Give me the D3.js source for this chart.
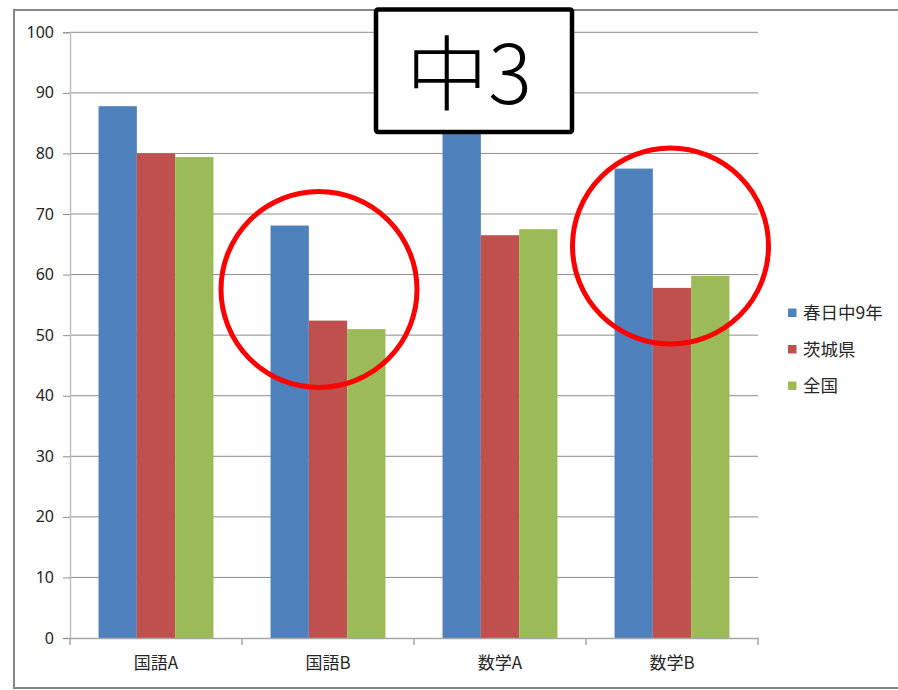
<!DOCTYPE html>
<html>
<head>
<meta charset="utf-8">
<script src="https://cdn.jsdelivr.net/npm/d3@7"></script>
<style>
  body { margin: 0; background: #fff; }
  svg { display: block; }
  .tick text { font-family: "Noto Sans", "Liberation Sans", sans-serif; }
</style>
</head>
<body>
<svg width="898" height="690"></svg>
<script>
// data
const categories = ['国語A', '国語B', '数学A', '数学B'];
const seriesNames = ['春日中9年', '茨城県', '全国'];
const kasuga = [87.8, 68.1, 86.0, 77.5];
const ibaraki = [80.0, 52.4, 66.5, 57.8];
const zenkoku = [79.4, 51.0, 67.5, 59.8];
const yTicks = [0, 10, 20, 30, 40, 50, 60, 70, 80, 90, 100];

const colors = ['#4F81BD', '#C0504D', '#9BBB59'];
const seriesValues = [kasuga, ibaraki, zenkoku];

const svg = d3.select('svg');

// outer frame
svg.append('rect')
    .attr('x', 14).attr('y', 10)
    .attr('width', 900).attr('height', 678)
    .attr('fill', 'none')
    .attr('stroke', '#868686')
    .attr('stroke-width', 2);

const plotLeft = 70, plotRight = 758, plotTop = 32.3, plotBottom = 638;

const x0 = d3.scaleBand().domain(categories).range([plotLeft, plotRight]).padding(0);
const x1 = d3.scaleBand().domain(seriesNames).range([0, x0.bandwidth()]).paddingInner(0).paddingOuter(0.745);
const y = d3.scaleLinear().domain([0, 100]).range([plotBottom, plotTop]);

// gridlines
svg.append('g')
    .selectAll('line')
    .data(yTicks.filter(d => d > 0))
    .enter()
    .append('line')
    .attr('x1', plotLeft).attr('x2', plotRight)
    .attr('y1', d => y(d)).attr('y2', d => y(d))
    .attr('stroke', '#8c8c8c')
    .attr('stroke-width', 1);

// bars
const groups = svg.append('g')
    .selectAll('g')
    .data(categories)
    .enter()
    .append('g')
    .attr('transform', d => `translate(${x0(d)},0)`);

groups.selectAll('rect')
    .data((c, i) => seriesNames.map((s, j) => ({ s: s, v: seriesValues[j][i], j: j })))
    .enter()
    .append('rect')
    .attr('x', d => x1(d.s))
    .attr('width', x1.bandwidth())
    .attr('y', d => y(d.v))
    .attr('height', d => y(0) - y(d.v))
    .attr('fill', d => colors[d.j]);

// y axis
const yAxis = svg.append('g')
    .attr('transform', `translate(${plotLeft},0)`)
    .call(d3.axisLeft(y).tickValues(yTicks).tickSize(7).tickPadding(9));
yAxis.select('.domain').attr('stroke', '#bfbfbf').attr('stroke-width', 1.5);
yAxis.selectAll('.tick line').attr('stroke', '#8c8c8c');
yAxis.selectAll('.tick text').attr('font-size', 16).attr('fill', '#262626');

// x axis
const xAxis = svg.append('g')
    .attr('transform', `translate(0,${plotBottom})`)
    .call(d3.axisBottom(x0).tickSize(0).tickPadding(19));
xAxis.select('.domain').attr('stroke', '#a6a6a6').attr('stroke-width', 1.5);
xAxis.selectAll('.tick text')
    .attr('font-size', 17)
    .attr('fill', '#262626')
    .style('font-family', '"Noto Sans CJK JP", sans-serif');
// category separators
xAxis.selectAll('.sep')
    .data(categories.concat(['end']))
    .enter()
    .append('line')
    .attr('x1', (d, i) => plotLeft + i * x0.step())
    .attr('x2', (d, i) => plotLeft + i * x0.step())
    .attr('y1', 0).attr('y2', 7)
    .attr('stroke', '#a6a6a6')
    .attr('stroke-width', 1.5);

// legend
const legend = svg.append('g')
    .selectAll('g')
    .data(seriesNames)
    .enter()
    .append('g')
    .attr('transform', (d, i) => `translate(788,${313 + i * 36.5})`);
legend.append('rect')
    .attr('x', 0).attr('y', -4.5)
    .attr('width', 8.5).attr('height', 8.5)
    .attr('fill', (d, i) => colors[i]);
legend.append('text')
    .attr('x', 15).attr('y', 0)
    .attr('dy', '0.36em')
    .attr('font-size', 17.5)
    .attr('fill', '#262626')
    .style('font-family', '"Noto Sans CJK JP", sans-serif')
    .text(d => d);

// red circles
const circles = [[319, 289.5, 98], [670.5, 246, 98]];
svg.append('g')
    .selectAll('circle')
    .data(circles)
    .enter()
    .append('circle')
    .attr('cx', d => d[0]).attr('cy', d => d[1]).attr('r', d => d[2])
    .attr('fill', 'none')
    .attr('stroke', '#ff0000')
    .attr('stroke-width', 5);

// title box
svg.append('rect')
    .attr('x', 376).attr('y', 9.5)
    .attr('width', 196).attr('height', 122.5)
    .attr('rx', 2)
    .attr('fill', '#fff')
    .attr('stroke', '#000')
    .attr('stroke-width', 4.5);
svg.append('text')
    .attr('x', 469).attr('y', 103.5)
    .attr('text-anchor', 'middle')
    .attr('font-size', 82)
    .attr('font-weight', 300)
    .attr('fill', '#000')
    .style('font-family', '"Noto Sans CJK JP", sans-serif')
    .text('中3');
</script>
</body>
</html>
